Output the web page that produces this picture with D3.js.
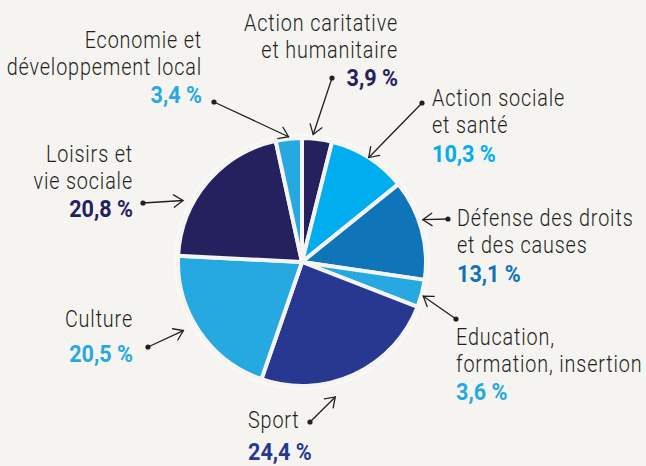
<!DOCTYPE html>
<html>
<head>
<meta charset="utf-8">
<script src="https://cdn.jsdelivr.net/npm/d3@7"></script>
<style>
    html, body {margin: 0; padding: 0; background: #f5f4f1;}
    svg {display: block;}
</style>
</head>
<body>
<div id="chart"></div>
<script>
const categories = ["Action caritative et humanitaire", "Action sociale et santé", "Défense des droits et des causes",
    "Education, formation, insertion", "Sport", "Culture", "Loisirs et vie sociale", "Economie et développement local"];
const label_lines = [["Action caritative", "et humanitaire"], ["Action sociale", "et santé"], ["Défense des droits", "et des causes"],
    ["Education,", "formation, insertion"], ["Sport"], ["Culture"], ["Loisirs et", "vie sociale"], ["Economie et", "développement local"]];
const values = [3.9, 10.3, 13.1, 3.6, 24.4, 20.5, 20.8, 3.4];
const value_labels = ["3,9 %", "10,3 %", "13,1 %", "3,6 %", "24,4 %", "20,5 %", "20,8 %", "3,4 %"];
const colors = ["#25215f", "#00adee", "#1074b9", "#26a9e0", "#283891", "#26a9e0", "#25215f", "#26a9e0"];

// label layout: text anchor, first baseline, percent baseline, dot, arrow tip (radius, angle shift in degrees)
const callouts = [
    {x: 398, y: 31,  py: 86,  anchor: "end",   dot: [332, 78],  r: 128, da: -2},
    {x: 432, y: 106, py: 162, anchor: "start", dot: [422, 103], r: 124, da: 0},
    {x: 457, y: 226, py: 282, anchor: "start", dot: [448, 219], r: 128, da: -4},
    {x: 456, y: 345, py: 400, anchor: "start", dot: [456, 319], r: 126, da: 1},
    {x: 248, y: 428, py: 460, anchor: "start", dot: [310, 422], r: 139, da: 11},
    {x: 133, y: 327, py: 362, anchor: "end",   dot: [148, 347], r: 137, da: 4},
    {x: 133, y: 162, py: 217, anchor: "end",   dot: [143, 203], r: 134, da: -13},
    {x: 202, y: 48,  py: 103, anchor: "end",   dot: [214, 102], r: 126, da: 0},
];

const w = 646, h = 466;
const cx = 302, cy = 262, radius = 124;
const ink = "#231f20";
const line_h = 27;

const svg = d3.select("#chart").append("svg").attr("width", w).attr("height", h);
svg.append("rect").attr("width", w).attr("height", h).attr("fill", "#f5f4f1");

const pie = d3.pie().sort(null).value(d => d)(values);
const arc = d3.arc().innerRadius(0).outerRadius(radius);

const g = svg.append("g").attr("transform", `translate(${cx},${cy})`);

// soft halo
g.append("circle").attr("r", radius + 4).attr("fill", "#faf9f7");

g.selectAll("path.slice").data(pie).enter().append("path")
    .attr("class", "slice")
    .attr("d", arc)
    .attr("fill", (d, i) => colors[i])
    .attr("stroke", "#f5f4f1")
    .attr("stroke-width", 4)
    .attr("stroke-linejoin", "round");

// callouts
const tip_of = (d, i) => {
    const c = callouts[i];
    const a = (d.startAngle + d.endAngle) / 2 + c.da * Math.PI / 180;
    return [cx + c.r * Math.sin(a), cy - c.r * Math.cos(a)];
};

const arrows = svg.append("g").attr("stroke", ink).attr("stroke-width", 1.3).attr("fill", "none").attr("stroke-linecap", "round");
pie.forEach((d, i) => {
    const c = callouts[i];
    const [tx, ty] = tip_of(d, i);
    const [dx, dy] = c.dot;
    arrows.append("line").attr("x1", dx).attr("y1", dy).attr("x2", tx).attr("y2", ty);
    const ang = Math.atan2(dy - ty, dx - tx);
    const head = 11, spread = 0.6;
    arrows.append("path")
        .attr("d", `M${tx + head * Math.cos(ang - spread)},${ty + head * Math.sin(ang - spread)}L${tx},${ty}L${tx + head * Math.cos(ang + spread)},${ty + head * Math.sin(ang + spread)}`);
    svg.append("circle").attr("cx", dx).attr("cy", dy).attr("r", 2.6).attr("fill", ink);
});

const labels = svg.append("g");
pie.forEach((d, i) => {
    const c = callouts[i];
    const lg = labels.append("g").attr("transform", `translate(${c.x},0) scale(0.86,1)`);
    label_lines[i].forEach((line, j) => {
        lg.append("text")
            .attr("x", 0).attr("y", c.y + j * line_h)
            .attr("text-anchor", c.anchor)
            .attr("font-family", "Roboto, 'DejaVu Sans', sans-serif")
            .attr("font-weight", 300)
            .attr("font-size", 23)
            .attr("letter-spacing", 1)
            .attr("fill", ink)
            .text(line);
    });
    labels.append("g").attr("transform", `translate(${c.x},0) scale(0.9,1)`)
        .append("text")
        .attr("x", 0).attr("y", c.py)
        .attr("text-anchor", c.anchor)
        .attr("font-family", "Roboto, 'DejaVu Sans', sans-serif")
        .attr("font-weight", 700)
        .attr("font-size", 24)
        .attr("fill", colors[i])
        .text(value_labels[i]);
});
</script>
</body>
</html>
